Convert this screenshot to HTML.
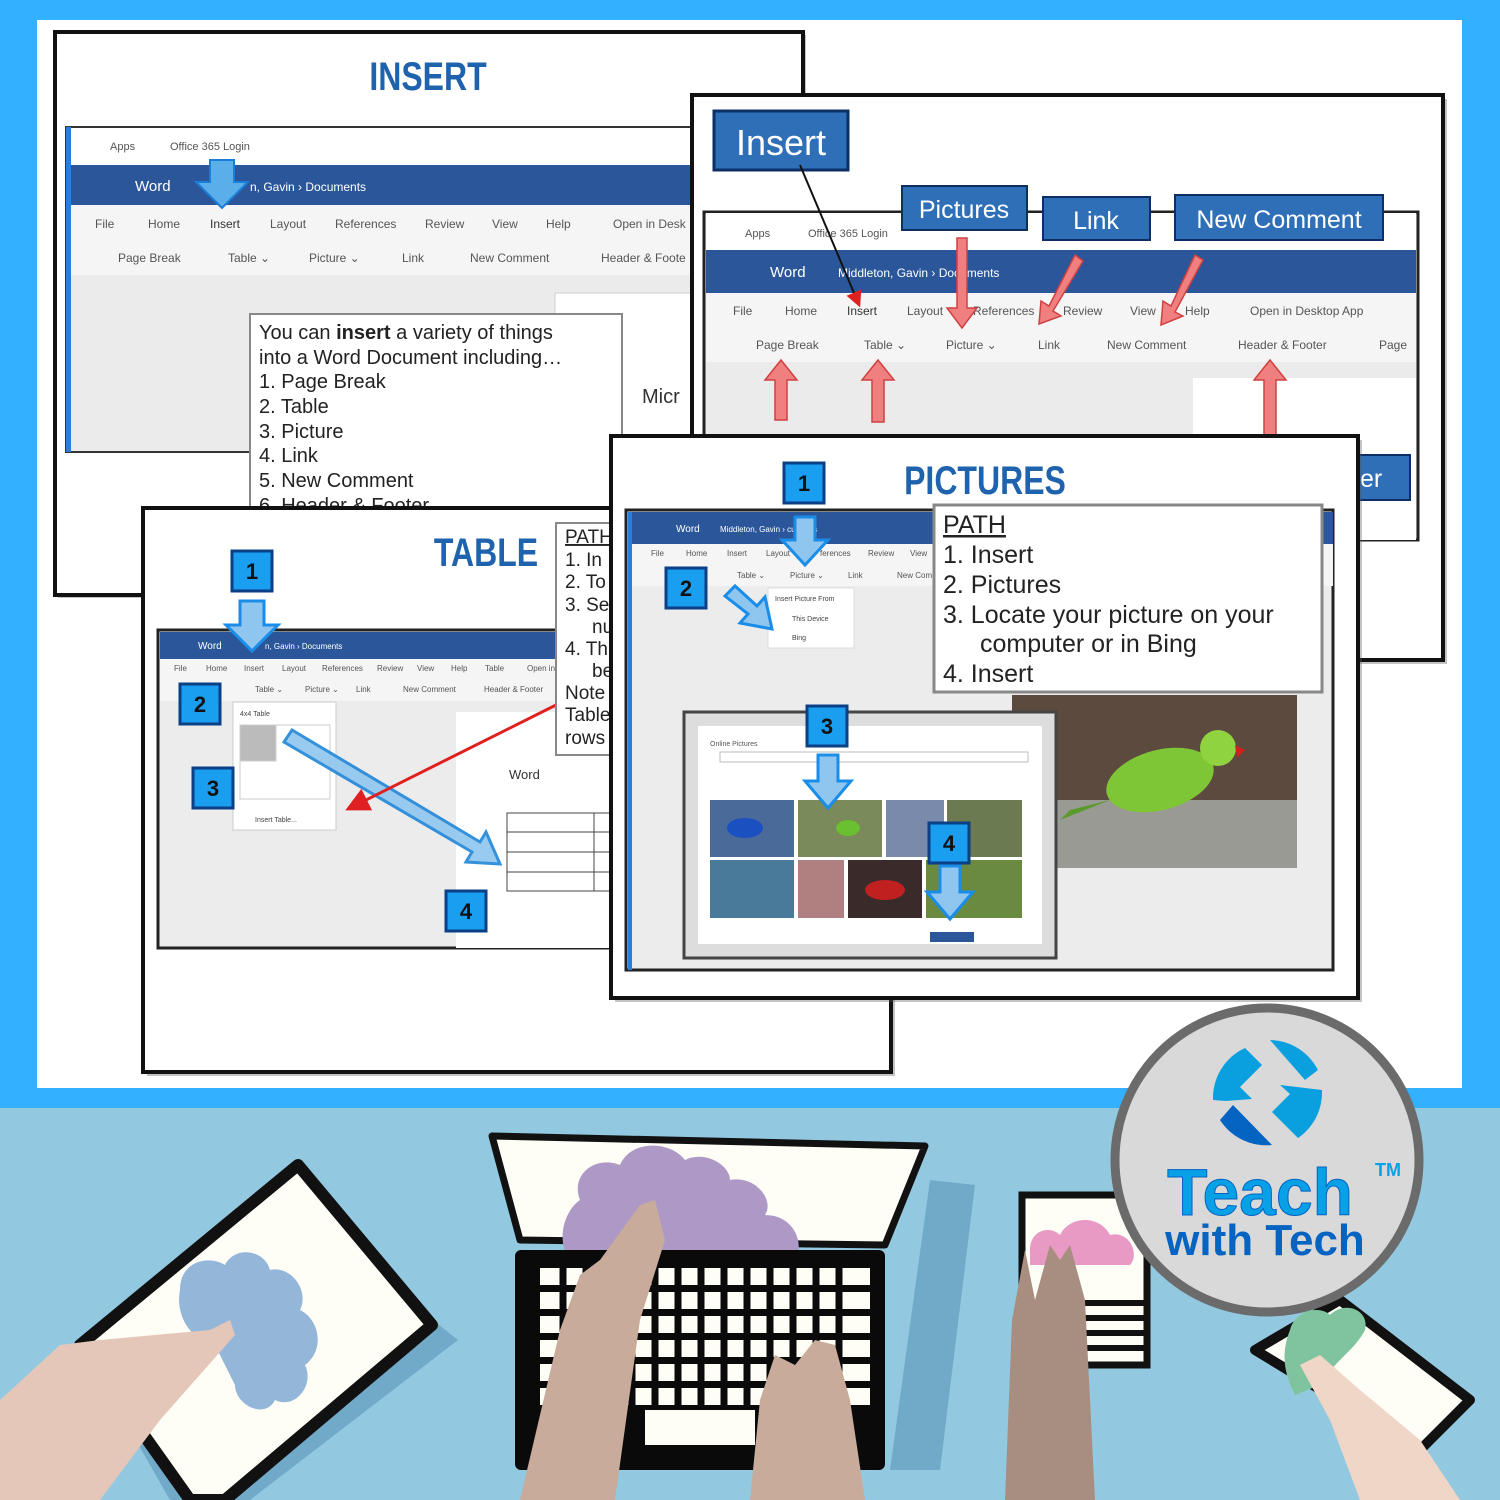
<!DOCTYPE html>
<html><head><meta charset="utf-8"><style>html,body{margin:0;padding:0;width:1500px;height:1500px;overflow:hidden;background:#33b0ff}svg{display:block}text{font-family:"Liberation Sans",sans-serif}</style></head>
<body>
<svg width="1500" height="1500" viewBox="0 0 1500 1500" xmlns="http://www.w3.org/2000/svg">
<defs>
<g id="nb"><rect x="0" y="0" width="40" height="40" fill="#1a9ef0" stroke="#0b3f86" stroke-width="3"/></g>
<marker id="ra" markerWidth="8" markerHeight="8" refX="4" refY="4" orient="auto"><path d="M0,0 L8,4 L0,8z" fill="#e02020"/></marker>
</defs>
<rect width="1500" height="1500" fill="#33b0ff"/>
<rect x="37" y="20" width="1425" height="1068" fill="#fff"/>
<rect x="0" y="1108" width="1500" height="392" fill="#92c9e0"/>

<!-- SLIDE 1 -->
<rect x="58" y="35" width="748" height="563" fill="#555" opacity=".35"/>
<rect x="55" y="32" width="748" height="563" fill="#fff" stroke="#111" stroke-width="4"/>
<text x="428" y="90" font-size="40" font-weight="bold" fill="#1f63ae" text-anchor="middle" transform="translate(428,0) scale(0.8,1) translate(-428,0)">INSERT</text>
<rect x="66" y="127" width="634" height="325" fill="#ebebeb" stroke="#333" stroke-width="2"/>
<rect x="68" y="128" width="632" height="37" fill="#fff"/>
<text x="110" y="150" font-size="11" fill="#555">Apps</text><text x="170" y="150" font-size="11" fill="#555">Office 365 Login</text>
<rect x="68" y="165" width="632" height="40" fill="#2b579a"/>
<text x="135" y="191" font-size="15" fill="#fff">Word</text><text x="250" y="191" font-size="12" fill="#fff">n, Gavin  ›  Documents</text>
<rect x="68" y="205" width="632" height="70" fill="#f5f5f5"/>
<g font-size="12" fill="#555"><text x="95" y="228">File</text><text x="148" y="228">Home</text><text x="210" y="228" fill="#333">Insert</text><text x="270" y="228">Layout</text><text x="335" y="228">References</text><text x="425" y="228">Review</text><text x="492" y="228">View</text><text x="546" y="228">Help</text><text x="613" y="228">Open in Desk</text>
<text x="118" y="262">Page Break</text><text x="228" y="262">Table ⌄</text><text x="309" y="262">Picture ⌄</text><text x="402" y="262">Link</text><text x="470" y="262">New Comment</text><text x="601" y="262">Header &amp; Foote</text></g>
<rect x="66" y="127" width="5" height="325" fill="#2b7de0"/>
<path d="M210 160h24v22h14l-26 26-26-26h14z" fill="#5aaeea" stroke="#1a7dd8" stroke-width="2"/>
<rect x="555" y="293" width="145" height="159" fill="#fff" stroke="#ccc"/>
<text x="642" y="403" font-size="20" fill="#333">Micr</text>
<rect x="250" y="314" width="372" height="200" fill="#fff" stroke="#888" stroke-width="2"/>
<g font-size="20" fill="#222"><text x="259" y="339">You can <tspan font-weight="bold">insert</tspan> a variety of things</text><text x="259" y="364">into a Word Document including…</text><text x="259" y="388">1.  Page Break</text><text x="259" y="413">2.  Table</text><text x="259" y="438">3.  Picture</text><text x="259" y="462">4.  Link</text><text x="259" y="487">5.  New Comment</text><text x="259" y="512">6.  Header &amp; Footer</text></g>

<!-- SLIDE 2 -->
<rect x="696" y="99" width="751" height="565" fill="#555" opacity=".35"/>
<rect x="692" y="95" width="751" height="565" fill="#fff" stroke="#111" stroke-width="4"/>
<rect x="704" y="212" width="714" height="328" fill="#ebebeb" stroke="#222" stroke-width="3"/>
<rect x="706" y="213" width="710" height="37" fill="#fff"/>
<text x="745" y="237" font-size="11" fill="#555">Apps</text><text x="808" y="237" font-size="11" fill="#555">Office 365 Login</text>
<rect x="706" y="250" width="710" height="43" fill="#2b579a"/>
<text x="770" y="277" font-size="15" fill="#fff">Word</text><text x="838" y="277" font-size="12" fill="#fff">Middleton, Gavin  ›  Documents</text>
<rect x="706" y="293" width="710" height="69" fill="#f5f5f5"/>
<g font-size="12" fill="#555"><text x="733" y="315">File</text><text x="785" y="315">Home</text><text x="847" y="315" fill="#333">Insert</text><text x="907" y="315">Layout</text><text x="973" y="315">References</text><text x="1063" y="315">Review</text><text x="1130" y="315">View</text><text x="1185" y="315">Help</text><text x="1250" y="315">Open in Desktop App</text>
<text x="756" y="349">Page Break</text><text x="864" y="349">Table ⌄</text><text x="946" y="349">Picture ⌄</text><text x="1038" y="349">Link</text><text x="1107" y="349">New Comment</text><text x="1238" y="349">Header &amp; Footer</text><text x="1379" y="349">Page</text></g>
<rect x="1193" y="378" width="223" height="162" fill="#fff"/>
<rect x="714" y="111" width="134" height="59" fill="#2e6fb8" stroke="#0d2f66" stroke-width="3"/>
<text x="781" y="155" font-size="36" fill="#fff" text-anchor="middle">Insert</text>
<line x1="800" y1="165" x2="857" y2="300" stroke="#111" stroke-width="2" marker-end="url(#ra)"/>
<rect x="902" y="186" width="125" height="44" fill="#2e6fb8" stroke="#0d2f66" stroke-width="2"/><text x="964" y="218" font-size="25" fill="#fff" text-anchor="middle">Pictures</text>
<rect x="1043" y="197" width="107" height="43" fill="#2e6fb8" stroke="#0d2f66" stroke-width="2"/><text x="1096" y="229" font-size="25" fill="#fff" text-anchor="middle">Link</text>
<rect x="1175" y="195" width="208" height="45" fill="#2e6fb8" stroke="#0d2f66" stroke-width="2"/><text x="1279" y="228" font-size="25" fill="#fff" text-anchor="middle">New Comment</text>
<g fill="#f08080" stroke="#d04040" stroke-width="1.5">
<path d="M957 238h10v70h10l-15 20-15-20h10z"/>
<path d="M1075 255l8 6-30 50 8 5-22 8 2-23 8 5z"/>
<path d="M1195 255l8 5-28 52 8 4-22 9 2-24 8 5z"/>
<path d="M775 420h12v-40h10l-16-20-16 20h10z"/>
<path d="M872 422h12v-42h10l-16-20-16 20h10z"/>
<path d="M1264 435h12v-55h10l-16-20-16 20h10z"/>
</g>
<rect x="1355" y="455" width="55" height="45" fill="#2e6fb8" stroke="#0d2f66" stroke-width="2"/><text x="1360" y="487" font-size="25" fill="#fff">er</text>

<!-- SLIDE 3 -->
<rect x="147" y="512" width="748" height="564" fill="#555" opacity=".35"/>
<rect x="143" y="508" width="748" height="564" fill="#fff" stroke="#111" stroke-width="4"/>
<text x="486" y="566" font-size="40" font-weight="bold" fill="#1f63ae" text-anchor="middle" transform="translate(486,0) scale(0.8,1) translate(-486,0)">TABLE</text>
<rect x="158" y="630" width="453" height="318" fill="#ececec" stroke="#222" stroke-width="3"/>
<rect x="160" y="632" width="451" height="27" fill="#2b579a"/>
<text x="198" y="649" font-size="10" fill="#fff">Word</text><text x="265" y="649" font-size="8" fill="#fff">n, Gavin › Documents</text>
<rect x="160" y="659" width="451" height="42" fill="#f5f5f5"/>
<g font-size="8" fill="#555"><text x="174" y="671">File</text><text x="206" y="671">Home</text><text x="244" y="671">Insert</text><text x="282" y="671">Layout</text><text x="322" y="671">References</text><text x="377" y="671">Review</text><text x="417" y="671">View</text><text x="451" y="671">Help</text><text x="485" y="671">Table</text><text x="527" y="671">Open in</text>
<text x="255" y="692">Table ⌄</text><text x="305" y="692">Picture ⌄</text><text x="356" y="692">Link</text><text x="403" y="692">New Comment</text><text x="484" y="692">Header &amp; Footer</text></g>
<rect x="233" y="702" width="103" height="128" fill="#fff" stroke="#ccc"/>
<text x="240" y="716" font-size="7" fill="#444">4x4 Table</text>
<g stroke="#ccc" fill="none"><rect x="240" y="725" width="90" height="74"/><rect x="240" y="725" width="36" height="36" fill="#bbb"/></g>
<text x="255" y="822" font-size="7" fill="#444">Insert Table...</text>
<rect x="456" y="712" width="155" height="236" fill="#fff"/>
<text x="509" y="779" font-size="13" fill="#333">Word</text>
<g stroke="#444" fill="none"><rect x="507" y="813" width="104" height="78"/><line x1="507" y1="832" x2="611" y2="832"/><line x1="507" y1="852" x2="611" y2="852"/><line x1="507" y1="872" x2="611" y2="872"/><line x1="594" y1="813" x2="594" y2="891"/></g>
<path d="M292 730 L480 842 L486 832 L500 864 L466 862 L472 852 L284 742z" fill="#8fc6ef" stroke="#1f86d8" stroke-width="3" opacity=".9"/>
<line x1="556" y1="705" x2="356" y2="805" stroke="#e02020" stroke-width="3" marker-end="url(#ra)"/>
<path d="M240 601h24v24h14l-26 26-26-26h14z" fill="#8fc6ef" stroke="#1a8de8" stroke-width="3"/>
<g font-size="22" font-weight="bold" fill="#111" text-anchor="middle">
<use href="#nb" x="232" y="551"/><text x="252" y="579">1</text>
<use href="#nb" x="180" y="684"/><text x="200" y="712">2</text>
<use href="#nb" x="193" y="768"/><text x="213" y="796">3</text>
<use href="#nb" x="446" y="891"/><text x="466" y="919">4</text></g>
<rect x="556" y="523" width="55" height="232" fill="#fff" stroke="#888" stroke-width="2"/>
<g font-size="19" fill="#222"><text x="565" y="543" text-decoration="underline">PATH</text><text x="565" y="566">1.  In</text><text x="565" y="588">2.  To</text><text x="565" y="611">3.  Se</text><text x="592" y="633">nu</text><text x="565" y="655">4.  Th</text><text x="592" y="677">be</text><text x="565" y="699">Note</text><text x="565" y="721">Table</text><text x="565" y="744">rows</text></g>

<!-- SLIDE 4 -->
<rect x="615" y="440" width="747" height="562" fill="#555" opacity=".35"/>
<rect x="611" y="436" width="747" height="562" fill="#fff" stroke="#111" stroke-width="4"/>
<text x="985" y="494" font-size="40" font-weight="bold" fill="#1f63ae" text-anchor="middle" transform="translate(985,0) scale(0.8,1) translate(-985,0)">PICTURES</text>
<rect x="626" y="510" width="707" height="460" fill="#ececec" stroke="#222" stroke-width="3"/>
<rect x="628" y="512" width="310" height="32" fill="#2b579a"/>
<rect x="938" y="512" width="395" height="32" fill="#2b579a"/>
<text x="676" y="532" font-size="10" fill="#fff">Word</text><text x="720" y="532" font-size="8" fill="#fff">Middleton, Gavin › cuments</text>
<rect x="628" y="544" width="705" height="42" fill="#f5f5f5"/>
<g font-size="8" fill="#555"><text x="651" y="556">File</text><text x="686" y="556">Home</text><text x="727" y="556">Insert</text><text x="766" y="556">Layout</text><text x="820" y="556">ferences</text><text x="868" y="556">Review</text><text x="910" y="556">View</text>
<text x="737" y="578">Table ⌄</text><text x="790" y="578">Picture ⌄</text><text x="848" y="578">Link</text><text x="897" y="578">New Com</text></g>
<rect x="628" y="512" width="4" height="458" fill="#2b7de0"/>
<rect x="768" y="588" width="86" height="60" fill="#fff" stroke="#ddd"/>
<g font-size="7" fill="#444"><text x="775" y="601">Insert Picture From</text><text x="792" y="621">This Device</text><text x="792" y="640">Bing</text></g>
<path d="M795 517h20v23h13l-23 25-23-25h13z" fill="#8fc6ef" stroke="#1a8de8" stroke-width="3"/>
<path d="M725 596l10-10 22 20 8-9 7 32-32-6 8-9z" fill="#8fc6ef" stroke="#1a8de8" stroke-width="3"/>
<rect x="934" y="505" width="388" height="187" fill="#fff" stroke="#888" stroke-width="3"/>
<g font-size="25" fill="#222"><text x="943" y="533" text-decoration="underline">PATH</text><text x="943" y="563">1.  Insert</text><text x="943" y="593">2.  Pictures</text><text x="943" y="623">3.  Locate your picture on your</text><text x="980" y="652">computer or in Bing</text><text x="943" y="682">4.  Insert</text></g>
<rect x="1012" y="695" width="285" height="173" fill="#5c4a3e"/>
<rect x="1012" y="800" width="285" height="68" fill="#9a9a94"/>
<ellipse cx="1160" cy="780" rx="55" ry="30" fill="#7fc636" transform="rotate(-15 1160 780)"/>
<circle cx="1218" cy="748" r="18" fill="#8fd440"/>
<path d="M1235 745l10 5-8 8z" fill="#d02020"/>
<path d="M1110 800l-50 20 10-10z" fill="#5a9a2a"/>
<rect x="684" y="712" width="372" height="246" fill="#ddd" stroke="#444" stroke-width="3"/>
<rect x="698" y="726" width="344" height="218" fill="#fff"/>
<text x="710" y="746" font-size="7" fill="#555">Online Pictures</text>
<rect x="720" y="752" width="308" height="10" fill="#fff" stroke="#bbb"/>
<g>
<rect x="710" y="800" width="84" height="57" fill="#4a6a9a"/><rect x="798" y="800" width="84" height="57" fill="#7a8a5a"/><rect x="886" y="800" width="58" height="57" fill="#7a8aaa"/><rect x="947" y="800" width="75" height="57" fill="#6b7a50"/>
<rect x="710" y="860" width="84" height="58" fill="#4a7a9a"/><rect x="798" y="860" width="46" height="58" fill="#b08080"/><rect x="848" y="860" width="74" height="58" fill="#3a2a2a"/><rect x="926" y="860" width="96" height="58" fill="#6a8a40"/>
<ellipse cx="745" cy="828" rx="18" ry="10" fill="#1a50c0"/><ellipse cx="885" cy="890" rx="20" ry="10" fill="#c02020"/><ellipse cx="848" cy="828" rx="12" ry="8" fill="#6ac030"/>
</g>
<rect x="930" y="932" width="44" height="10" fill="#2b579a"/>
<path d="M818 755h20v26h13l-23 27-23-27h13z" fill="#8fc6ef" stroke="#1a8de8" stroke-width="3"/>
<path d="M940 866h20v26h13l-23 27-23-27h13z" fill="#8fc6ef" stroke="#1a8de8" stroke-width="3"/>
<g font-size="22" font-weight="bold" fill="#111" text-anchor="middle">
<use href="#nb" x="784" y="463"/><text x="804" y="491">1</text>
<use href="#nb" x="666" y="568"/><text x="686" y="596">2</text>
<use href="#nb" x="807" y="706"/><text x="827" y="734">3</text>
<use href="#nb" x="929" y="823"/><text x="949" y="851">4</text></g>

<!-- BOTTOM -->
<rect x="0" y="1088" width="1500" height="20" fill="#33b0ff"/>
<!-- left tablet -->
<path d="M300 1215 L458 1340 L250 1500 L170 1500 L90 1360z" fill="#71a9c8"/>
<path d="M298 1165 L432 1325 L225 1500 L190 1500 L80 1345z" fill="#fefdf6" stroke="#111" stroke-width="12" stroke-linejoin="round"/>
<path d="M180 1290c0-30 30-35 45-25 10-20 40-15 45 5 20-5 40 20 30 40 20 10 25 40 5 55 10 20-10 45-30 35-10 20-40 5-40-15l-20-40c-25-5-40-30-35-55z" fill="#94b6d9"/>
<path d="M0 1400 L60 1345 L100 1340 L210 1330 L230 1320 L235 1335 L160 1420 L100 1500 L0 1500z" fill="#e4c7b8"/>
<!-- laptop -->
<path d="M930 1180 L975 1185 L940 1470 L890 1470z" fill="#71a9c8"/>
<path d="M492 1136 L925 1146 L885 1245 L520 1240z" fill="#fefdf6" stroke="#111" stroke-width="7" stroke-linejoin="round"/>
<path d="M580 1200c-10-25 15-45 40-35 10-25 50-25 65 -5 20-10 45 5 45 20 25-5 45 20 35 35 30 0 40 30 30 45l-225 0c-15-20-5-50 10-60z" fill="#ae98c6"/>
<rect x="515" y="1250" width="370" height="220" rx="6" fill="#0a0a0a"/>
<g fill="#fefdf6">
<rect x="540" y="1268" width="330" height="17"/><rect x="540" y="1292" width="330" height="17"/><rect x="540" y="1316" width="330" height="17"/><rect x="540" y="1340" width="330" height="17"/><rect x="540" y="1364" width="330" height="17"/><rect x="540" y="1388" width="330" height="17"/>
<rect x="645" y="1410" width="110" height="35"/></g>
<g stroke="#0a0a0a" stroke-width="7"><line x1="563" y1="1265" x2="563" y2="1410"/><line x1="586" y1="1265" x2="586" y2="1410"/><line x1="609" y1="1265" x2="609" y2="1410"/><line x1="632" y1="1265" x2="632" y2="1410"/><line x1="655" y1="1265" x2="655" y2="1410"/><line x1="678" y1="1265" x2="678" y2="1410"/><line x1="701" y1="1265" x2="701" y2="1410"/><line x1="724" y1="1265" x2="724" y2="1410"/><line x1="747" y1="1265" x2="747" y2="1410"/><line x1="770" y1="1265" x2="770" y2="1410"/><line x1="793" y1="1265" x2="793" y2="1410"/><line x1="816" y1="1265" x2="816" y2="1410"/><line x1="839" y1="1265" x2="839" y2="1410"/></g>
<path d="M520 1500 L560 1330 L580 1275 L600 1260 L640 1205 L655 1200 L665 1240 L640 1320 L615 1500z" fill="#c8ab9b"/>
<path d="M750 1500 L760 1400 L775 1355 L795 1365 L815 1340 L835 1345 L850 1400 L865 1500z" fill="#c8ab9b"/>
<!-- phone middle -->
<rect x="1022" y="1195" width="125" height="170" fill="#fefdf6" stroke="#111" stroke-width="7"/>
<path d="M1030 1250c0-20 20-25 30-15 10-20 40-20 50 0 20-5 30 20 20 30h-100z" fill="#e89ac4"/>
<g fill="#111"><rect x="1025" y="1300" width="120" height="6"/><rect x="1025" y="1315" width="120" height="6"/><rect x="1025" y="1330" width="120" height="6"/><rect x="1025" y="1345" width="120" height="6"/></g>
<path d="M1005 1500 L1012 1320 L1025 1250 L1035 1300 L1050 1245 L1060 1260 L1070 1245 L1085 1300 L1095 1500z" fill="#a88e80"/>
<!-- right phone -->
<path d="M1340 1310 L1465 1400 L1410 1460 L1290 1360z" fill="#111"/>
<path d="M1340 1300 L1470 1400 L1420 1450 L1255 1350z" fill="#fefdf6" stroke="#111" stroke-width="10" stroke-linejoin="round"/>
<path d="M1290 1330c5-20 30-25 40-15 15-15 40-5 35 15-10 20-30 30-45 55l-25 10c-10-20-15-40-5-65z" fill="#80c49f"/>
<path d="M1300 1365 L1330 1420 L1360 1500 L1460 1500 L1420 1440 L1360 1390 L1320 1355z" fill="#f0d6c6"/>
<!-- logo -->
<circle cx="1267" cy="1160" r="152" fill="#d9d9d9" stroke="#6b6b6b" stroke-width="9"/>
<path d="M1213 1100 A55 55 0 0 1 1245 1048 L1262 1065 L1240 1087 L1252 1099 L1226 1101z" fill="#0aa0e0"/>
<path d="M1270 1040 A55 55 0 0 1 1318 1070 L1305 1080z" fill="#0aa0e0"/>
<path d="M1322 1090 A55 55 0 0 1 1298 1138 L1272 1112 L1290 1094 L1280 1085z" fill="#0aa0e0"/>
<path d="M1233 1105 L1272 1145 A55 55 0 0 1 1220 1120z" fill="#0563c1"/>
<text x="1260" y="1215" font-size="66" font-weight="bold" fill="#08a0e6" text-anchor="middle" stroke="#0563c1" stroke-width="1">Teach</text>
<text x="1375" y="1176" font-size="18" font-weight="bold" fill="#08a0e6">TM</text>
<text x="1265" y="1255" font-size="44" font-weight="bold" fill="#0563c1" text-anchor="middle">with Tech</text>
</svg>
</body></html>
